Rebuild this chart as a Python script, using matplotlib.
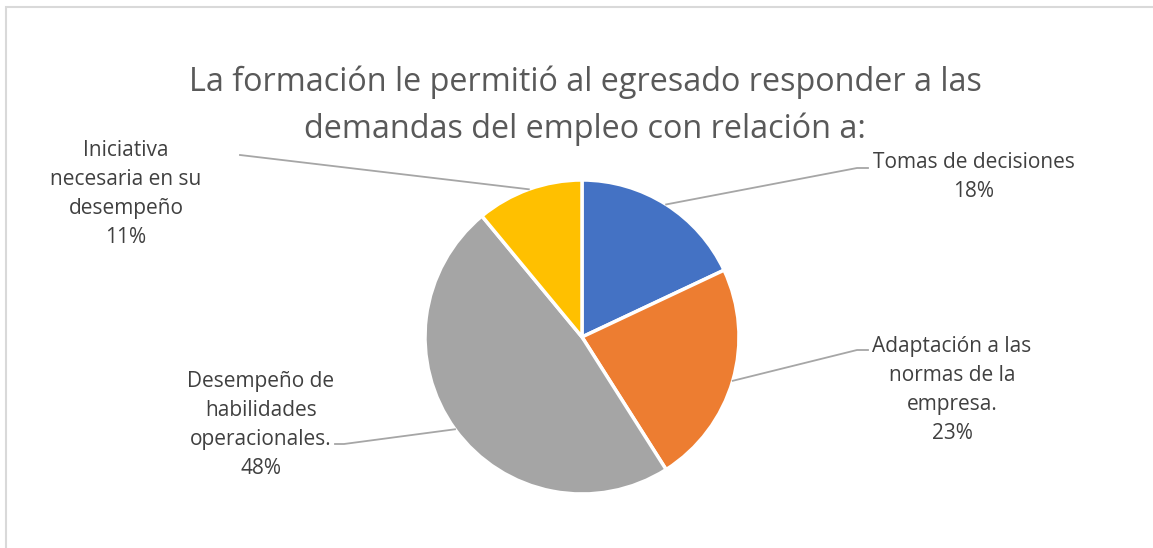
import numpy as np
import matplotlib.pyplot as plt

# datos del gráfico
etiquetas = ["Tomas de decisiones",
             "Adaptación a las\nnormas de la\nempresa.",
             "Desempeño de\nhabilidades\noperacionales.",
             "Iniciativa\nnecesaria en su\ndesempeño"]
porcentajes = [18, 23, 48, 11]
colores = ["#4472C4", "#ED7D31", "#A5A5A5", "#FFC000"]
titulo = "La formación le permitió al egresado responder a las\ndemandas del empleo con relación a:"

# posiciones (pixeles) de las etiquetas y del codo de cada linea guia
pos_texto = [(974, 177), (952, 390), (261, 425), (126, 194)]
codo = [(857, 168), (857, 350), (344, 444), (240, 155)]
fin_linea = [(868, 168), (868, 350), (335, 444), (240, 155)]

W, H = 1153, 548
cx, cy, R = 582, 337, 157

plt.rcParams['font.family'] = ['Open Sans', 'DejaVu Sans']
fig = plt.figure(figsize=(W / 100, H / 100), dpi=100)

# pastel
ax = fig.add_axes([(cx - R) / W, (H - cy - R) / H, 2 * R / W, 2 * R / H])
wedges, _ = ax.pie(porcentajes, colors=colores, startangle=90, counterclock=False,
                   wedgeprops=dict(edgecolor="white", linewidth=2.5))
ax.set_xlim(-1, 1)
ax.set_ylim(-1, 1)
ax.axis("off")

# capa superior en pixeles para textos y lineas
ov = fig.add_axes([0, 0, 1, 1], zorder=3)
ov.set_xlim(0, W)
ov.set_ylim(H, 0)
ov.axis("off")
ov.patch.set_alpha(0)

# marco del gráfico (solo se ve arriba e izquierda)
ov.plot([6, 6, W], [H, 7, 7], color="#D9D9D9", lw=1.5, solid_joinstyle="miter")

ov.text(585, 106, titulo, ha="center", va="center", fontsize=23.3,
        color="#595959", linespacing=1.52)

for w, lab, p, (tx, ty), (ex, ey), (fx, fy) in zip(wedges, etiquetas, porcentajes,
                                                  pos_texto, codo, fin_linea):
    mid = np.deg2rad((w.theta1 + w.theta2) / 2)
    sx, sy = cx + R * np.cos(mid), cy - R * np.sin(mid)
    ov.plot([sx, ex, fx], [sy, ey, fy], color="#A6A6A6", lw=1.3)
    ov.text(tx, ty, f"{lab}\n{p}%", ha="center", va="center", fontsize=15,
            color="#404040", linespacing=1.48)

fig.savefig("out.png", dpi=100, facecolor="white")
